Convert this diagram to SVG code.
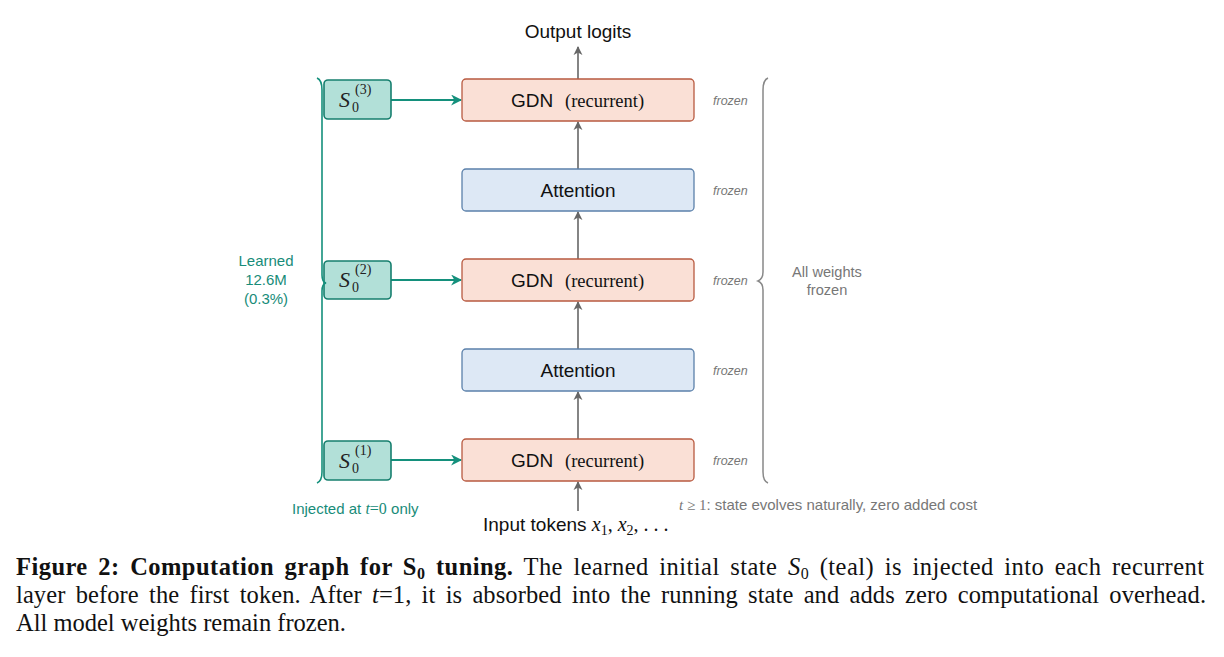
<svg xmlns="http://www.w3.org/2000/svg" width="1224" height="657" viewBox="0 0 1224 657">
<defs>
<style>
.gdn{fill:#fae0d6;stroke:#b85a40;stroke-width:1.3}
.att{fill:#dde8f5;stroke:#5b80aa;stroke-width:1.3}
.s0{fill:#b2e0d8;stroke:#167f6e;stroke-width:1.6}
.sans{font-family:"Liberation Sans",Arial,sans-serif}
.serif{font-family:"Liberation Serif","Times New Roman",serif}
.lbl{font-size:19px;fill:#111}
.fz{font-family:"Liberation Sans",Arial,sans-serif;font-style:italic;font-size:12.5px;fill:#777}
.teal{fill:#188c79}
.gray{fill:#777}
.garr{stroke:#666;stroke-width:1.6;fill:none;marker-end:url(#ga)}
.tarr{stroke:#14907c;stroke-width:2;fill:none;marker-end:url(#ta)}
.cap{font-family:"Liberation Serif","Times New Roman",serif;font-size:24.5px;fill:#111}
.mS{font-family:"Liberation Serif","Times New Roman",serif;font-style:italic;font-size:22px;fill:#222}
.mi{font-family:"Liberation Serif","Times New Roman",serif;font-size:14px;fill:#222}
</style>
<marker id="ga" viewBox="0 0 10 10" refX="9" refY="5" markerWidth="9" markerHeight="10" markerUnits="userSpaceOnUse" orient="auto"><path d="M0,0 L10,5 L0,10 L3,5 Z" fill="#666"/></marker>
<marker id="ta" viewBox="0 0 10 10" refX="9" refY="5" markerWidth="14" markerHeight="11" markerUnits="userSpaceOnUse" orient="auto"><path d="M0,0 L10,5 L0,10 L3,5 Z" fill="#14907c"/></marker>
</defs>
<rect width="1224" height="657" fill="#fff"/>

<g id="connectors">
<line class="garr" x1="578" y1="79" x2="578" y2="47"/>
<line class="garr" x1="578" y1="169" x2="578" y2="122"/>
<line class="garr" x1="578" y1="259" x2="578" y2="212"/>
<line class="garr" x1="578" y1="349" x2="578" y2="302"/>
<line class="garr" x1="578" y1="439" x2="578" y2="392"/>
<line class="garr" x1="578" y1="511" x2="578" y2="482"/>
<line class="tarr" x1="391" y1="100" x2="461" y2="100"/>
<line class="tarr" x1="391" y1="280" x2="461" y2="280"/>
<line class="tarr" x1="391" y1="460" x2="461" y2="460"/>
</g>

<g id="gdn3"><rect class="gdn" x="462" y="79" width="232" height="42" rx="4"/>
<text class="sans lbl" x="511" y="107">GDN</text><text class="serif" font-size="18.5" fill="#111" x="565" y="107">(recurrent)</text></g>
<g id="att2"><rect class="att" x="462" y="169" width="232" height="42" rx="4"/>
<text class="sans lbl" x="578" y="197" text-anchor="middle">Attention</text></g>
<g id="gdn2"><rect class="gdn" x="462" y="259" width="232" height="42" rx="4"/>
<text class="sans lbl" x="511" y="287">GDN</text><text class="serif" font-size="18.5" fill="#111" x="565" y="287">(recurrent)</text></g>
<g id="att1"><rect class="att" x="462" y="349" width="232" height="42" rx="4"/>
<text class="sans lbl" x="578" y="377" text-anchor="middle">Attention</text></g>
<g id="gdn1"><rect class="gdn" x="462" y="439" width="232" height="42" rx="4"/>
<text class="sans lbl" x="511" y="467">GDN</text><text class="serif" font-size="18.5" fill="#111" x="565" y="467">(recurrent)</text></g>

<g id="s03"><rect class="s0" x="324" y="80" width="67" height="39" rx="4"/>
<text class="mS" x="339" y="107">S</text><text class="mi" x="352" y="112">0</text><text class="mi" x="355" y="94">(3)</text></g>
<g id="s02"><rect class="s0" x="324" y="261" width="67" height="38" rx="4"/>
<text class="mS" x="339" y="287">S</text><text class="mi" x="352" y="292">0</text><text class="mi" x="355" y="274">(2)</text></g>
<g id="s01"><rect class="s0" x="324" y="441" width="67" height="39" rx="4"/>
<text class="mS" x="339" y="468">S</text><text class="mi" x="352" y="473">0</text><text class="mi" x="355" y="455">(1)</text></g>

<g id="left-brace">
<path d="M317,78 Q322,80 322,90 L322,275 Q322,282 326,283 Q322,284 322,291 L322,472 Q322,481 317,483" fill="none" stroke="#14907c" stroke-width="1.6"/>
<text class="sans teal" font-size="15" text-anchor="middle"><tspan x="266" y="266">Learned</tspan><tspan x="266" y="285">12.6M</tspan><tspan x="266" y="304">(0.3%)</tspan></text>
</g>

<g id="right-brace">
<path d="M768,78 Q763,80 763,90 L763,272 Q763,279 758,281 Q763,283 763,290 L763,472 Q763,481 768,483" fill="none" stroke="#888" stroke-width="1.5"/>
<text class="sans gray" font-size="14.6" text-anchor="middle"><tspan x="827" y="277">All weights</tspan><tspan x="827" y="295">frozen</tspan></text>
</g>

<g id="frozen-labels">
<text class="fz" x="713" y="105">frozen</text>
<text class="fz" x="713" y="195">frozen</text>
<text class="fz" x="713" y="285">frozen</text>
<text class="fz" x="713" y="375">frozen</text>
<text class="fz" x="713" y="465">frozen</text>
</g>

<g id="io-labels">
<text class="sans" font-size="19" fill="#111" x="578" y="38" text-anchor="middle">Output logits</text>
<text x="483" y="531" fill="#111"><tspan class="sans" font-size="19">Input tokens </tspan><tspan class="serif" font-style="italic" font-size="20">x</tspan><tspan class="serif" font-size="14" dy="4">1</tspan><tspan class="serif" font-size="20" dy="-4">, </tspan><tspan class="serif" font-style="italic" font-size="20">x</tspan><tspan class="serif" font-size="14" dy="4">2</tspan><tspan class="serif" font-size="20" dy="-4">, . . .</tspan></text>
<text x="292" y="514" font-size="15" class="teal"><tspan class="sans">Injected at </tspan><tspan class="serif" font-style="italic" font-size="16">t</tspan><tspan class="serif" font-size="16">=0</tspan><tspan class="sans"> only</tspan></text>
<text x="679" y="510" font-size="15" class="gray"><tspan class="serif" font-style="italic">t</tspan><tspan class="serif"> ≥ 1</tspan><tspan class="sans">: state evolves naturally, zero added cost</tspan></text>
</g>

<g id="caption">
<text class="cap" x="16" y="575" word-spacing="4" textLength="1188" lengthAdjust="spacing"><tspan font-weight="bold">Figure 2: Computation graph for S</tspan><tspan font-weight="bold" font-size="16" dy="4">0</tspan><tspan font-weight="bold" dy="-4"> tuning.</tspan> The learned initial state <tspan font-style="italic">S</tspan><tspan font-size="16" dy="4">0</tspan><tspan dy="-4"> (teal) is injected into each recurrent</tspan></text>
<text class="cap" x="16" y="603" word-spacing="4" textLength="1190" lengthAdjust="spacing">layer before the first token. After <tspan font-style="italic">t</tspan>=1, it is absorbed into the running state and adds zero computational overhead.</text>
<text class="cap" x="16" y="631">All model weights remain frozen.</text>
</g>
</svg>
